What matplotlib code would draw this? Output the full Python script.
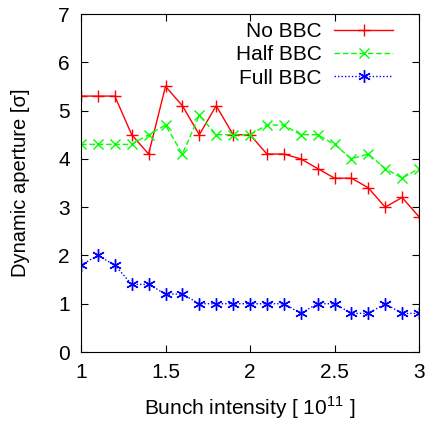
import numpy as np
import matplotlib
matplotlib.use('Agg')
import matplotlib.pyplot as plt

plt.rcParams['font.family'] = ['Liberation Sans', 'DejaVu Sans']
plt.rcParams['mathtext.fontset'] = 'custom'
plt.rcParams['mathtext.rm'] = 'Liberation Sans'

# dados
intensidade = [1.0, 1.1, 1.2, 1.3, 1.4, 1.5, 1.6, 1.7, 1.8, 1.9, 2.0,
               2.1, 2.2, 2.3, 2.4, 2.5, 2.6, 2.7, 2.8, 2.9, 3.0]
no_bbc = [5.3, 5.3, 5.3, 4.5, 4.1, 5.5, 5.1, 4.5, 5.1, 4.5, 4.5,
          4.1, 4.1, 4.0, 3.8, 3.6, 3.6, 3.4, 3.0, 3.2, 2.8]
half_bbc = [4.3, 4.3, 4.3, 4.3, 4.5, 4.7, 4.1, 4.9, 4.5, 4.5, 4.5,
            4.7, 4.7, 4.5, 4.5, 4.3, 4.0, 4.1, 3.8, 3.6, 3.8]
full_bbc = [1.8, 2.0, 1.8, 1.4, 1.4, 1.2, 1.2, 1.0, 1.0, 1.0, 1.0,
            1.0, 1.0, 0.8, 1.0, 1.0, 0.8, 0.8, 1.0, 0.8, 0.8]

fig = plt.figure(figsize=(4.28, 4.23), dpi=100)
ax = fig.add_axes([81/428, 1 - 352/423, (419-81)/428, (352-14)/423])

ax.plot(intensidade, no_bbc, color='#ff0000', lw=1, marker='+', ms=9, mew=1, label='No BBC')
ax.plot(intensidade, half_bbc, color='#00ff00', lw=1, ls=(0, (4, 2)), marker='x', ms=7, mew=1, label='Half BBC')
ax.plot(intensidade, full_bbc, color='#0000ff', lw=1, ls=(0, (1, 1.5)), marker=(6, 2, 0), ms=9, mew=1, label='Full BBC')

ax.set_xlim(1, 3)
ax.set_ylim(0, 7)
ax.set_xticks([1, 1.5, 2, 2.5, 3])
ax.set_xticklabels(['1', '1.5', '2', '2.5', '3'])
ax.set_yticks(range(8))
ax.tick_params(direction='in', top=True, right=True, length=5, labelsize=15, pad=8)
ax.set_xlabel('Bunch intensity [ 10$^{11}$ ]', fontsize=15, labelpad=9)
ax.set_ylabel('Dynamic aperture [σ]', fontsize=14.5, labelpad=20)

ax.legend(loc='upper right', bbox_to_anchor=(0.947, 1.0), frameon=False, markerfirst=False,
          fontsize=15, handlelength=2.8, labelspacing=0.2, borderaxespad=0,
          handletextpad=0.6)

fig.savefig('out.png', dpi=100)
